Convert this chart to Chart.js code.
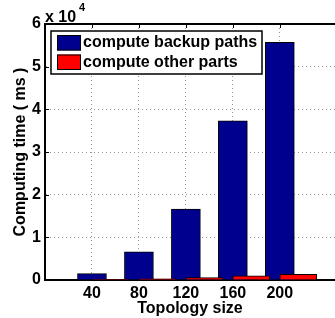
<!DOCTYPE html>
<html lang="en">
<head>
  <meta charset="UTF-8">
  <title>Computing time vs topology size</title>
  <style>
    html, body {
      margin: 0;
      padding: 0;
      background: #ffffff;
    }
    canvas {
      display: block;
    }
  </style>
  <script src="https://cdn.jsdelivr.net/npm/chart.js"></script>
</head>
<body>
  <canvas id="chartCanvas" width="335" height="318"></canvas>

  <script>
    // chart data
    const topologySizes = [40, 80, 120, 160, 200];
    const backupPathTimes = [1500, 6600, 16600, 37300, 55700];
    const otherPartTimes = [100, 300, 550, 1000, 1300];
    const yTicks = [0, 10000, 20000, 30000, 40000, 50000, 60000];
    const seriesNames = ['compute backup paths', 'compute other parts'];

    // look
    const FONT = "'Liberation Sans', Arial, Helvetica, sans-serif";
    const BLUE = 'rgb(0,0,143)';
    const RED = 'rgb(255,0,0)';
    const GRID = 'rgb(150,150,150)';
    const X_MAX = 247;
    const RED_SHIFT = 15.75; // red bars start at the tick, MATLAB style

    const boldFont = size => ({ family: FONT, size: size, weight: 'bold' });

    // draws the top box line, "x 10^4" label, inner tick marks and the boxed legend
    const matlabDecor = {
      id: 'matlabDecor',
      afterDraw(chart) {
        const ctx = chart.ctx;
        const area = chart.chartArea;
        const xs = chart.scales.x;
        const ys = chart.scales.y;

        ctx.save();
        ctx.strokeStyle = '#000';
        ctx.lineWidth = 2;
        ctx.beginPath();
        ctx.moveTo(area.left - 1, area.top);
        ctx.lineTo(area.right, area.top);
        ctx.stroke();

        ctx.lineWidth = 1;
        ctx.beginPath();
        topologySizes.forEach(v => {
          const px = Math.round(xs.getPixelForValue(v)) + 0.5;
          ctx.moveTo(px, area.top);
          ctx.lineTo(px, area.top + 4);
        });
        yTicks.slice(1, -1).forEach(v => {
          const py = Math.round(ys.getPixelForValue(v)) + 0.5;
          ctx.moveTo(area.left, py);
          ctx.lineTo(area.left + 4, py);
        });
        ctx.stroke();

        // exponent label
        ctx.fillStyle = '#000';
        ctx.textBaseline = 'alphabetic';
        ctx.textAlign = 'left';
        ctx.font = 'bold 16px ' + FONT;
        ctx.fillText('x 10', 45, 22);
        ctx.font = 'bold 11px ' + FONT;
        ctx.fillText('4', 79, 11);

        // legend box
        const lx = 51, ly = 31, lw = 211, lh = 43;
        ctx.fillStyle = '#fff';
        ctx.fillRect(lx, ly, lw, lh);
        ctx.lineWidth = 1.5;
        ctx.strokeStyle = '#000';
        ctx.strokeRect(lx, ly, lw, lh);

        const rows = [35, 54.5];
        chart.data.datasets.forEach((ds, i) => {
          ctx.fillStyle = ds.backgroundColor;
          ctx.fillRect(57, rows[i], 24, 15.5);
          ctx.lineWidth = 1;
          ctx.strokeRect(57.5, rows[i] + 0.5, 23, 14.5);
          ctx.fillStyle = '#000';
          ctx.font = 'bold 16px ' + FONT;
          ctx.textBaseline = 'middle';
          ctx.fillText(ds.label, 83, rows[i] + 8);
        });
        ctx.restore();
      }
    };

    const ctx = document.getElementById('chartCanvas').getContext('2d');

    const chart = new Chart(ctx, {
      type: 'bar',
      data: {
        datasets: [
          {
            label: seriesNames[0],
            data: topologySizes.map((x, i) => ({ x: x, y: backupPathTimes[i] })),
            backgroundColor: BLUE,
            borderColor: '#000',
            borderWidth: 1,
            barThickness: 29,
            grouped: false,
            order: 1
          },
          {
            label: seriesNames[1],
            data: topologySizes.map((x, i) => ({ x: x + RED_SHIFT, y: otherPartTimes[i] })),
            backgroundColor: RED,
            borderColor: '#000',
            borderWidth: 1,
            barThickness: 37,
            grouped: false,
            order: 0
          }
        ]
      },
      plugins: [matlabDecor],
      options: {
        responsive: false,
        animation: false,
        layout: {
          padding: { top: 24, right: 0, bottom: 0, left: 0 }
        },
        plugins: {
          legend: { display: false },
          tooltip: { enabled: false }
        },
        scales: {
          x: {
            type: 'linear',
            position: 'bottom',
            offset: false,
            min: 0,
            max: X_MAX,
            afterBuildTicks: scale => {
              scale.ticks = topologySizes.map(v => ({ value: v }));
            },
            afterFit: scale => {
              scale.height = 38;
            },
            grid: { color: GRID, lineWidth: 1, drawTicks: false, offset: false },
            border: { color: '#000', width: 2, dash: [1, 3] },
            ticks: { color: '#000', font: boldFont(16), padding: 4 },
            title: {
              display: true,
              text: 'Topology size',
              color: '#000',
              font: boldFont(16),
              padding: { top: 0, bottom: 0 }
            }
          },
          y: {
            min: 0,
            max: 60000,
            afterBuildTicks: scale => {
              scale.ticks = yTicks.map(v => ({ value: v }));
            },
            afterFit: scale => {
              scale.width = 45;
            },
            grid: { color: GRID, lineWidth: 1, drawTicks: false },
            border: { color: '#000', width: 2, dash: [1, 3] },
            ticks: {
              color: '#000',
              font: boldFont(16),
              padding: 4,
              callback: value => String(value / 10000)
            },
            title: {
              display: true,
              text: 'Computing time ( ms )',
              color: '#000',
              font: boldFont(16),
              padding: { top: 11, bottom: 0 }
            }
          }
        }
      }
    });
  </script>
</body>
</html>
